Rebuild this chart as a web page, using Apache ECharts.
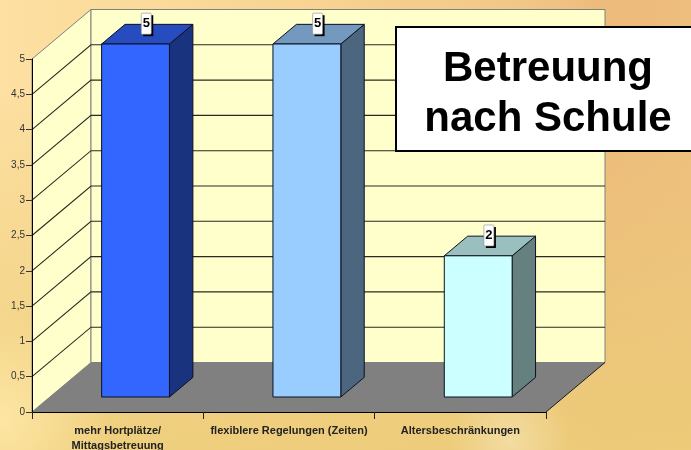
<!DOCTYPE html>
<html>
<head>
<meta charset="utf-8">
<style>html,body{margin:0;padding:0;background:#f5d090}#c{width:691px;height:450px}</style>
<script src="https://cdn.jsdelivr.net/npm/echarts@6/dist/echarts.min.js"></script>
</head>
<body>
<div id="c"></div>
<script>
const categories = ['mehr Hortplätze/\nMittagsbetreuung', 'flexiblere Regelungen (Zeiten)', 'Altersbeschränkungen'];
const values = [5, 5, 2];
const gridValues = [0.5, 1, 1.5, 2, 2.5, 3, 3.5, 4, 4.5];
const faceColors = ['#3366ff', '#99ccff', '#ccffff'];
const topColors = ['#264cbf', '#7399bf', '#99bfbf'];
const sideColors = ['#19337f', '#4c667f', '#667f7f'];
const titleText = 'Betreuung\nnach Schule';

const DX = 59, DY = -49.5;
const chart = echarts.init(document.getElementById('c'), null, {renderer: 'canvas'});

function frame(api) {
  const band = api.size([1, 0])[0];
  const p0 = api.coord([0, 0]);
  const p5 = api.coord([0, 5]);
  const left = p0[0] - band / 2;
  return {left, right: left + band * categories.length, y0: p0[1], y5: p5[1], band};
}
const poly = (points, fill, stroke, w) => ({
  type: 'polygon', shape: {points},
  style: {fill, stroke: stroke || null, lineWidth: w || 0}
});

function renderWalls(params, api) {
  const f = frame(api);
  return {type: 'group', children: [
    poly([[f.left, f.y0], [f.left + DX, f.y0 + DY], [f.left + DX, f.y5 + DY], [f.left, f.y5]], '#ffffcc', '#808080', 1),
    poly([[f.left + DX, f.y0 + DY], [f.right + DX, f.y0 + DY], [f.right + DX, f.y5 + DY], [f.left + DX, f.y5 + DY]], '#ffffcc', '#808080', 1),
    poly([[f.left, f.y0], [f.right, f.y0], [f.right + DX, f.y0 + DY], [f.left + DX, f.y0 + DY]], '#808080', null, 0),
    {type: 'line', shape: {x1: f.right, y1: f.y0, x2: f.right + DX, y2: f.y0 + DY}, style: {stroke: '#1a1a1a', lineWidth: 1}}
  ]};
}
function renderGrid(params, api) {
  const f = frame(api);
  const y = api.coord([0, api.value(1)])[1];
  return {type: 'polyline', shape: {points: [[f.left, y], [f.left + DX, y + DY], [f.right + DX, y + DY]]},
    style: {fill: null, stroke: '#2a2a20', lineWidth: 1.1}};
}
function renderBar(params, api) {
  const i = api.value(0), v = api.value(1);
  const base = api.coord([i, 0]), top = api.coord([i, v]);
  const f = frame(api);
  const halfW = f.band * 0.198;
  const d0 = 0.303, d1 = 0.7;
  const x0 = base[0] - halfW + DX * d0, x1 = base[0] + halfW + DX * d0;
  const yb = base[1] + DY * d0, yt = top[1] + DY * d0;
  const ox = DX * (d1 - d0), oy = DY * (d1 - d0);
  const stroke = '#0c1020';
  const cx = (x0 + x1 + ox) / 2 - 1, cy = yt + oy / 2 - 10.5;
  return {type: 'group', children: [
    poly([[x1, yb], [x1 + ox, yb + oy], [x1 + ox, yt + oy], [x1, yt]], sideColors[i], stroke, 1),
    poly([[x0, yt], [x1, yt], [x1 + ox, yt + oy], [x0 + ox, yt + oy]], topColors[i], stroke, 1),
    poly([[x0, yb], [x1, yb], [x1, yt], [x0, yt]], faceColors[i], stroke, 1),
    {type: 'rect', shape: {x: cx - 3, y: cy - 8.5, width: 10, height: 21}, style: {fill: '#000'}},
    {type: 'rect', shape: {x: cx - 5, y: cy - 10.5, width: 10, height: 21, r: 1}, style: {fill: '#fff', stroke: '#888', lineWidth: 0.6}},
    {type: 'text', x: cx, y: cy, style: {text: String(v), fill: '#000', font: 'bold 13px "Liberation Sans", Arial, sans-serif', align: 'center', verticalAlign: 'middle'}}
  ]};
}

chart.setOption({
  animation: false,
  backgroundColor: {
    type: 'linear', x: 0, y: 0, x2: 1, y2: 0,
    colorStops: [
      {offset: 0, color: '#fde0a2'},
      {offset: 0.4, color: '#f9d594'},
      {offset: 0.75, color: '#f1c787'},
      {offset: 0.88, color: '#edbb7c'},
      {offset: 1, color: '#eebe7e'}
    ]
  },
  graphic: [
    {type: 'rect', z: -3, silent: true, shape: {x: 0, y: 0, width: 691, height: 450},
      style: {fill: {type: 'linear', x: 0, y: 0, x2: 0, y2: 1, colorStops: [
        {offset: 0.2, color: 'rgba(236,205,120,0)'},
        {offset: 1, color: 'rgba(236,205,120,0.85)'}
      ]}}},
    {type: 'circle', z: -2, silent: true, shape: {cx: 0, cy: 420, r: 110},
      style: {fill: {type: 'radial', x: 0.5, y: 0.5, r: 0.5, colorStops: [
        {offset: 0, color: 'rgba(255,232,168,0.9)'},
        {offset: 1, color: 'rgba(255,232,168,0)'}
      ]}}},
    {type: 'circle', z: -1, silent: true, shape: {cx: 510, cy: 440, r: 60},
      style: {fill: {type: 'radial', x: 0.5, y: 0.5, r: 0.5, colorStops: [
        {offset: 0, color: 'rgba(245,225,175,0.75)'},
        {offset: 1, color: 'rgba(245,225,175,0)'}
      ]}}}
  ],
  title: {
    text: titleText,
    left: 519, top: 27,
    textAlign: 'center',
    padding: [17, 27, 7, 29],
    backgroundColor: '#fff',
    borderColor: '#000',
    borderWidth: 2,
    textStyle: {fontFamily: '"Liberation Sans", Arial, sans-serif', fontSize: 42, fontWeight: 'bold', color: '#000', lineHeight: 50}
  },
  grid: {left: 32, top: 59, width: 514, height: 353, containLabel: false, outerBoundsMode: 'none'},
  xAxis: {
    type: 'category', data: categories, z: 5,
    axisLine: {lineStyle: {color: '#000', width: 1}},
    axisTick: {show: true, length: 7, alignWithLabel: false, lineStyle: {color: '#222'}},
    axisLabel: {interval: 0, margin: 11, color: '#222', fontFamily: '"Liberation Sans", Arial, sans-serif', fontSize: 11, fontWeight: 'bold', lineHeight: 15.5},
    splitLine: {show: false}
  },
  yAxis: {
    type: 'value', min: 0, max: 5, interval: 0.5, z: 5,
    axisLine: {show: true, lineStyle: {color: '#000', width: 1}},
    axisTick: {show: true, length: 6, lineStyle: {color: '#333'}},
    axisLabel: {margin: 7, color: '#333', fontFamily: '"Liberation Sans", Arial, sans-serif', fontSize: 10,
      formatter: v => String(v).replace('.', ',')},
    splitLine: {show: false}
  },
  series: [
    {type: 'custom', name: 'walls', z: 1, silent: true, renderItem: renderWalls, data: [[0, 0]], encode: {x: 0, y: 1}},
    {type: 'custom', name: 'grid', z: 2, silent: true, renderItem: renderGrid, data: gridValues.map(v => [0, v]), encode: {x: 0, y: 1}},
    {type: 'custom', name: 'Betreuung', z: 3, renderItem: renderBar, data: values.map((v, i) => [i, v]), encode: {x: 0, y: 1}}
  ]
});
</script>
</body>
</html>
